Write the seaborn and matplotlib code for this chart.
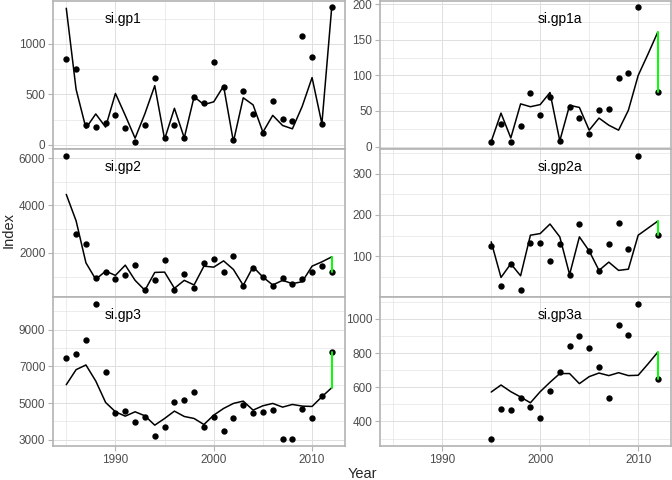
import numpy as np
import pandas as pd
import seaborn as sns
import matplotlib.pyplot as plt
from matplotlib.ticker import FixedLocator
import matplotlib.transforms as mtransforms

sns.set_theme(style="white")
plt.rcParams['font.family'] = ['Liberation Sans', 'DejaVu Sans']

years_long = list(range(1985, 2013))
years_short = list(range(1995, 2013))
nan = np.nan

gp1_obs = [850, 753, 200, 180, 213, 300, 167, 27, 200, 667, 70, 193, 67, 477,
           420, 823, 570, 50, 530, 303, 120, 437, 260, 240, 1077, 867, 210, 1363]
gp1_fit = [1353, 550, 167, 307, 177, 510, 293, 67, 310, 587, 57, 363, 70, 477,
           400, 427, 583, 33, 467, 397, 127, 293, 193, 160, 383, 667, 210, 1363]

gp2_obs = [6098, 2795, 2390, 955, 1191, 913, 1066, 1470, 453, 843, 1693, 453, 1122, 522,
           1568, 1763, 1178, 1888, 592, 1345, 982, 606, 927, 676, 899, 1191, 1456, 1205]
gp2_fit = [4467, 3352, 1582, 885, 1233, 1052, 1484, 843, 425, 1178, 1191, 508, 843, 648,
           1442, 1400, 1665, 1303, 634, 1414, 982, 648, 843, 704, 787, 1442, 1624, 1833]

gp3_obs = [7473, 7655, 8436, 10400, 6709, 4473, 4564, 3964, 4236, 3200, 3727, 5073, 5164, 5582,
           3691, 4255, 3473, 4164, 4873, 4436, 4527, 4636, 3055, 3036, 4691, 4164, 5382, 7764]
gp3_fit = [6000, 6818, 7073, 6200, 5036, 4527, 4291, 4527, 4309, 3800, 4164, 4564, 4273, 4164,
           3836, 4345, 4709, 4982, 5109, 4618, 4855, 4982, 4782, 4927, 4836, 4818, 5345, 5836]

gp1a_obs = [7, 32, 6, 29, 76, 44, 69, 8, 55, 40, 17, 52, 53, 96, 103, 196, nan, 77]
gp1a_fit = [7, 47, 12, 60, 56, 59, 76, 8, 58, 55, 23, 40, 30, 23, 51, 100, 130, 161]

gp2a_obs = [126, 29, 82, 18, 132, 132, 88, 130, 54, 178, 114, 65, 129, 181, 117, 343, nan, 152]
gp2a_fit = [135, 49, 82, 53, 151, 155, 178, 147, 56, 147, 113, 66, 86, 66, 69, 151, 168, 185]

gp3a_obs = [296, 470, 465, 535, 484, 418, 580, 689, 840, 898, 832, 719, 535, 961, 904, 1088, nan, 648]
gp3a_fit = [572, 613, 574, 543, 509, 574, 629, 680, 680, 621, 662, 683, 668, 685, 668, 670, 736, 805]

panels = [
    ("si.gp1", years_long, gp1_obs, gp1_fit, [0, 500, 1000], 250, 1990.8),
    ("si.gp1a", years_short, gp1a_obs, gp1a_fit, [0, 50, 100, 150, 200], 25, 2002.0),
    ("si.gp2", years_long, gp2_obs, gp2_fit, [2000, 4000, 6000], 1000, 1990.8),
    ("si.gp2a", years_short, gp2a_obs, gp2a_fit, [100, 200, 300], 50, 2002.0),
    ("si.gp3", years_long, gp3_obs, gp3_fit, [3000, 5000, 7000, 9000], 1000, 1990.8),
    ("si.gp3a", years_short, gp3a_obs, gp3a_fit, [400, 600, 800, 1000], 100, 2002.0),
]

W, H = 672, 480
cols = [(53, 345), (380, 671)]
rows = [(0.5, 149), (149, 297), (297, 446)]

border = "#b3b3b3"
gridc = "#dedede"

fig = plt.figure(figsize=(6.72, 4.8), dpi=100)

for i, (name, yrs, obs, fit, yticks, minor_step, lab_x) in enumerate(panels):
    r, c = divmod(i, 2)
    x0, x1 = cols[c]
    y0, y1 = rows[r]
    ax = fig.add_axes([x0 / W, 1 - y1 / H, (x1 - x0) / W, (y1 - y0) / H])
    df = pd.DataFrame({"Year": yrs, "obs": obs, "fit": fit})

    # free y scale with 5% padding, shared x
    allv = np.concatenate([df["obs"].dropna().values, df["fit"].values])
    lo, hi = allv.min(), allv.max()
    pad = 0.05 * (hi - lo)
    ax.set_ylim(lo - pad, hi + pad)
    ax.set_xlim(1985 - 0.05 * 27, 2012 + 0.05 * 27)

    sns.scatterplot(data=df, x="Year", y="obs", ax=ax, color="black", s=21,
                    edgecolor="black", linewidth=0, clip_on=False, zorder=3)
    sns.lineplot(data=df, x="Year", y="fit", ax=ax, color="black", lw=1.1, zorder=4)
    last = df.iloc[-1]
    ax.plot([last["Year"], last["Year"]], [last["obs"], last["fit"]],
            color="#00ff00", lw=1.4, solid_capstyle="round", zorder=5)

    ax.xaxis.set_major_locator(FixedLocator([1990, 2000, 2010]))
    ax.xaxis.set_minor_locator(FixedLocator([1985, 1995, 2005]))
    ax.yaxis.set_major_locator(FixedLocator(yticks))
    minors = np.arange(yticks[0] - minor_step, yticks[-1] + 2 * minor_step, 2 * minor_step)
    ax.yaxis.set_minor_locator(FixedLocator(minors))
    ax.grid(which="major", color=gridc, lw=0.7)
    ax.grid(which="minor", color=gridc, lw=0.4)
    ax.set_axisbelow(True)

    for sp in ax.spines.values():
        sp.set_color(border)
        sp.set_linewidth(1.2)
        sp.set_zorder(1)

    ax.tick_params(axis="y", which="major", length=3.5, width=0.8, color=border,
                   labelsize=8.5, labelcolor="#4d4d4d", pad=2, left=True)
    ax.tick_params(which="minor", length=0)
    if r == 2:
        ax.tick_params(axis="x", which="major", length=3.5, width=0.8, color=border,
                       labelsize=8.5, labelcolor="#4d4d4d", pad=2, bottom=True)
    else:
        ax.tick_params(axis="x", which="major", length=0, labelbottom=False)
    ax.set_xlabel("")
    ax.set_ylabel("")

    trans = mtransforms.blended_transform_factory(ax.transData, ax.transAxes)
    ax.text(lab_x, 1 - 18 / (y1 - y0), name, transform=trans, ha="center",
            va="center", fontsize=10, color="black", zorder=6)

fig.text(362 / W, 1 - 474 / H, "Year", ha="center", va="center", fontsize=10.5)
fig.text(9 / W, 1 - 230 / H, "Index", ha="center", va="center", fontsize=10.5,
         rotation=90)

fig.savefig("out.png", dpi=100)
